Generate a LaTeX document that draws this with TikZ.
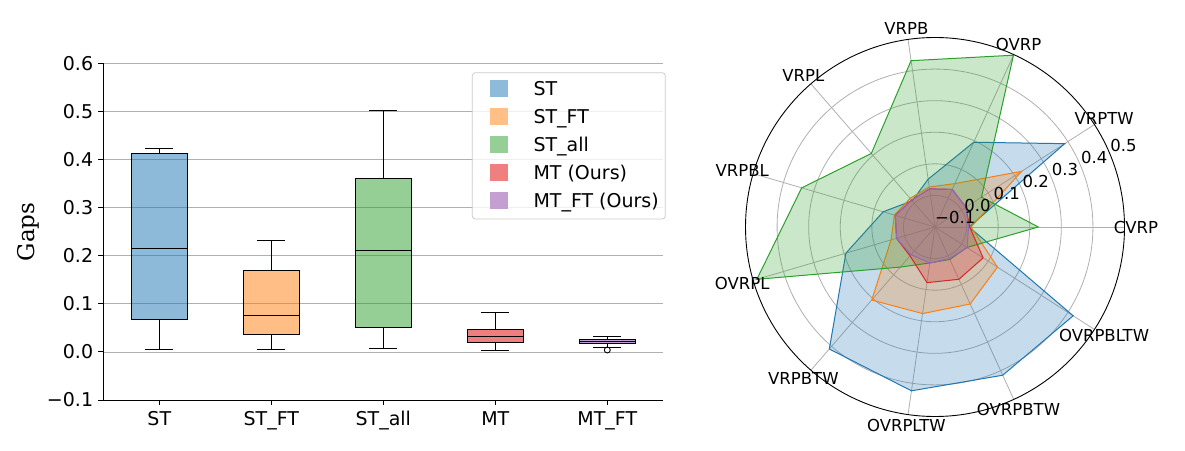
\documentclass[tikz,border=0pt]{standalone}
\usepackage{fontspec}
\newfontfamily\dv{DejaVu Sans}
\newfontfamily\dvs{DejaVu Serif}
\definecolor{tabblue}{HTML}{1F77B4}
\definecolor{taborange}{HTML}{FF7F0E}
\definecolor{tabgreen}{HTML}{2CA02C}
\definecolor{tabred}{HTML}{D62728}
\definecolor{tabpurple}{HTML}{9467BD}
\definecolor{boxred}{RGB}{225,1,1}
\definecolor{boxpurple}{RGB}{137,65,165}
\definecolor{lblue}{RGB}{143,187,218}
\definecolor{lorange}{RGB}{255,191,134}
\definecolor{lgreen}{RGB}{149,207,149}
\definecolor{lred}{RGB}{240,128,128}
\definecolor{lpurple}{RGB}{196,160,210}
\definecolor{gridgray}{HTML}{B0B0B0}
\definecolor{legframe}{HTML}{CCCCCC}
\tikzset{
  gridln/.style={gridgray, line width=0.8},
  bxline/.style={black, line width=1},
  ticklab/.style={font=\dv\fontsize{19}{21}\selectfont, inner sep=0pt},
  radlab/.style={font=\dv\fontsize{16.5}{18}\selectfont, inner sep=0pt},
  legpatch/.style={minimum width=17.7pt, minimum height=17.3pt, inner sep=0pt},
  series/.style={draw=#1, fill=#1, fill opacity=0.25, line width=1},
}
\newcommand\bxp[7]{%
  \draw[bxline] (#1,#2) -- (#1,#3);
  \draw[bxline] (#1,#5) -- (#1,#6);
  \draw[bxline] (#1-0.125,#2) -- (#1+0.125,#2);
  \draw[bxline] (#1-0.125,#6) -- (#1+0.125,#6);
  \draw[bxline, fill=#7, fill opacity=0.5] (#1-0.25,#3) rectangle (#1+0.25,#5);
  \draw[bxline] (#1-0.25,#4) -- (#1+0.25,#4);
}
\newcommand\radarpoly[3]{%
  \foreach \v [count=\i from 0] in {#2} {
    \coordinate (#3\i) at ({\i*360/11}:{(\v+0.1)*315.83});
  }
  \path[series=#1] (#30) -- (#31) -- (#32) -- (#33) -- (#34) -- (#35) -- (#36) -- (#37) -- (#38) -- (#39) -- (#310) -- cycle;
}
\begin{document}
\begin{tikzpicture}[x=1pt,y=1pt]
\useasboundingbox (0,0) rectangle (1185,450);
\fill[white] (0,0) rectangle (1185,450);

% ---------------- box plot ----------------
\begin{scope}[shift={(47.3,98.1)}, x=112pt, y=481pt]
  \foreach \v in {0.0,0.1,0.2,0.3,0.4,0.5,0.6} {
    \draw[gridln] (0.5,\v) -- (5.5,\v);
  }
  \bxp{1}{0.0054}{0.068}{0.215}{0.413}{0.423}{tabblue}
  \bxp{2}{0.0054}{0.0366}{0.076}{0.170}{0.232}{taborange}
  \bxp{3}{0.0075}{0.051}{0.211}{0.361}{0.502}{tabgreen}
  \bxp{4}{0.0033}{0.020}{0.033}{0.047}{0.082}{boxred}
  \bxp{5}{0.010}{0.018}{0.022}{0.026}{0.031}{boxpurple}
  \draw[black, line width=0.9] (5,0.004) circle[radius=3pt];
  \draw[black, line width=1] (0.5,0.6) -- (0.5,-0.1) -- (5.5,-0.1);
  \foreach \v/\t in {-0.1/{−0.1},0.0/0.0,0.1/0.1,0.2/0.2,0.3/0.3,0.4/0.4,0.5/0.5,0.6/0.6} {
    \draw[black, line width=1] (0.5,\v) -- ++(-5pt,0);
    \node[ticklab, anchor=east, xshift=-10pt] (yt\v) at (0.5,\v) {\t};
  }
  \foreach \p in {1,...,5} {
    \draw[black, line width=1] (\p,-0.1) -- ++(0,-5pt);
  }
\end{scope}
\foreach \p/\t in {1/ST,2/ST\_FT,3/ST\_all,4/MT,5/MT\_FT} {
  \node[ticklab, anchor=base] (xt\p) at ({47.3+112*\p},25) {\t};
}
\node[font=\dvs\fontsize{23}{25}\selectfont, rotate=90, inner sep=0pt] (ylab) at (28.8,218) {Gaps};

% legend
\draw[legframe, line width=0.8, fill=white, fill opacity=0.8, rounded corners=3pt] (472.3,231) rectangle (665.3,377.3);
\foreach \c/\t [count=\k from 0] in {lblue/ST,lorange/ST\_FT,lgreen/ST\_all,lred/MT (Ours),lpurple/MT\_FT (Ours)} {
  \node[legpatch, fill=\c] (lp\k) at (498.85,{361.7-28.1*\k}) {};
  \node[ticklab, anchor=base west] (lt\k) at (533.3,{361.7-28.1*\k-6.8}) {\t};
}

% ---------------- radar ----------------
\begin{scope}[shift={(935,223)}]
  \foreach \i in {0,...,10} {
    \draw[gridln] (0,0) -- ({\i*360/11}:189.5);
  }
  \foreach \k in {1,...,5} {
    \draw[gridln] (0,0) circle[radius={\k*31.583}];
  }
  \radarpoly{tabblue}{0.008,0.388,0.195,0.053,0.010,0.071,0.194,0.411,0.424,0.416,0.420}{b}
  \radarpoly{taborange}{0.014,0.226,0.051,0.028,0.020,0.034,0.045,0.206,0.177,0.168,0.135}{o}
  \radarpoly{tabgreen}{0.227,0.075,0.498,0.432,0.208,0.340,0.488,0.068,0.015,0.013,0.020}{g}
  \radarpoly{tabred}{0.010,0.016,0.031,0.022,0.013,0.031,0.027,0.021,0.078,0.082,0.081}{r}
  \radarpoly{tabpurple}{0.006,0.016,0.031,0.022,0.013,0.031,0.027,0.016,0.015,0.010,0.021}{m}
  \draw[black, line width=0.9] (0,0) circle[radius=189.5];
  \foreach \v/\t [count=\k from 0] in {-0.1/{−0.1},0.0/0.0,0.1/0.1,0.2/0.2,0.3/0.3,0.4/0.4,0.5/0.5} {
    \node[radlab, anchor=base west, yshift=3pt] (rl\k) at (22.5:{(\v+0.1)*315.83}) {\t};
  }
  \foreach \t [count=\i from 0] in {CVRP,VRPTW,OVRP,VRPB,VRPL,VRPBL,OVRPL,VRPBTW,OVRPLTW,OVRPBTW,OVRPBLTW} {
    \node[radlab] (al\i) at ({\i*360/11}:201) {\t};
  }
\end{scope}
\end{tikzpicture}
\end{document}
